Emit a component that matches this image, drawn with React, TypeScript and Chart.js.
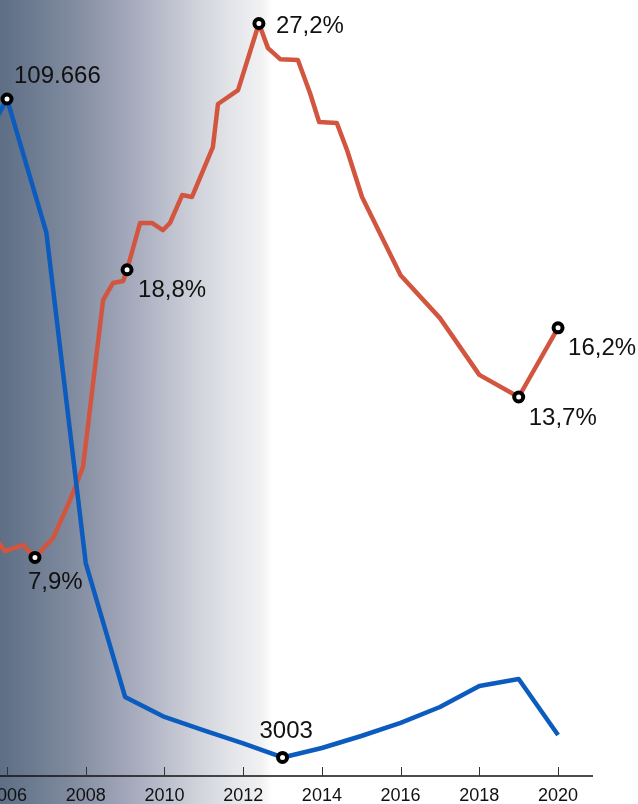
import React, { useEffect, useRef } from "react";
import { Chart, registerables } from "chart.js";

Chart.register(...registerables);

// Blue series: annual values
const blueYears = [2005, 2006, 2007, 2008, 2009, 2010, 2011, 2012, 2013, 2014, 2015, 2016, 2017, 2018, 2019, 2020];
const blueValues = [98000, 109666, 88000, 34500, 12800, 9560, 7400, 5300, 3003, 4540, 6480, 8600, 11180, 14580, 15710, 6640];

// Red series: percentage values (sub-annual)
const redYears = [
  2005.75, 2005.95, 2006.41, 2006.71, 2007.17, 2007.6, 2007.93, 2008.44, 2008.69, 2008.95, 2009.05,
  2009.38, 2009.68, 2009.96, 2010.14, 2010.45, 2010.7, 2011.23, 2011.36, 2011.87, 2012.4, 2012.63,
  2012.94, 2013.39, 2013.7, 2013.93, 2014.38, 2014.64, 2015.02, 2016, 2017, 2018, 2019, 2020,
];
const redValues = [
  8.5, 8.13, 8.35, 7.9, 8.6, 9.97, 11.17, 17.2, 17.82, 17.89, 18.3,
  19.99, 19.99, 19.73, 19.99, 21.0, 20.93, 22.73, 24.29, 24.79, 27.2, 26.31,
  25.91, 25.88, 24.68, 23.64, 23.6, 22.62, 20.93, 18.1, 16.55, 14.5, 13.7, 16.2,
];

const tickYears = [2006, 2008, 2010, 2012, 2014, 2016, 2018, 2020];

// Annotated points (index into series) and their texts
const blueLabelIdx = [1, 8];
const blueLabelText = ["109.666", "3003"];
const redLabelIdx = [3, 10, 20, 32, 33];
const redLabelText = ["7,9%", "18,8%", "27,2%", "13,7%", "16,2%"];

const FONT = "'Liberation Sans', Arial, Helvetica, sans-serif";

export default function App() {
  const ref = useRef<HTMLCanvasElement | null>(null);

  useEffect(() => {
    const canvas = ref.current;
    if (!canvas) return;

    // label offsets (dx from marker to text left, dy from marker to baseline)
    const blueOffsets = [
      [7, -16],
      [-23, -19],
    ];
    const redOffsets = [
      [-7, 32],
      [11, 27],
      [17, 9.5],
      [10, 28],
      [10, 27],
    ];

    const bgPlugin = {
      id: "bg",
      beforeDraw(chart: any) {
        const { ctx, width, height } = chart;
        ctx.save();
        ctx.fillStyle = "#ffffff";
        ctx.fillRect(0, 0, width, height);
        const g = ctx.createLinearGradient(0, 0, 272, 0);
        g.addColorStop(0, "#5d6e85");
        g.addColorStop(0.25, "#7e899d");
        g.addColorStop(0.5, "#a8acbe");
        g.addColorStop(0.72, "#cfd2da");
        g.addColorStop(0.86, "#e4e6ea");
        g.addColorStop(0.96, "#f1f1f2");
        g.addColorStop(1, "#ffffff");
        ctx.fillStyle = g;
        ctx.fillRect(0, 0, 272, height);
        ctx.restore();
      },
    };

    const axisPlugin = {
      id: "axisline",
      afterDatasetsDraw(chart: any) {
        const { ctx, chartArea } = chart;
        const xs = chart.scales.x;
        ctx.save();
        ctx.strokeStyle = "#111";
        ctx.lineWidth = 1.5;
        ctx.beginPath();
        ctx.moveTo(chartArea.left, chartArea.bottom);
        ctx.lineTo(chartArea.right, chartArea.bottom);
        ctx.stroke();
        ctx.lineWidth = 1;
        ctx.strokeStyle = "#333";
        tickYears.forEach((y) => {
          const px = Math.round(xs.getPixelForValue(y)) + 0.5;
          ctx.beginPath();
          ctx.moveTo(px, chartArea.bottom - 9);
          ctx.lineTo(px, chartArea.bottom);
          ctx.stroke();
        });
        ctx.restore();
      },
    };

    const labelPlugin = {
      id: "labels",
      afterDatasetsDraw(chart: any) {
        const { ctx } = chart;
        ctx.save();
        ctx.font = `24px ${FONT}`;
        ctx.fillStyle = "#111";
        ctx.textAlign = "left";
        ctx.textBaseline = "alphabetic";
        const blueMeta = chart.getDatasetMeta(0);
        blueLabelIdx.forEach((idx, i) => {
          const p = blueMeta.data[idx];
          ctx.fillText(blueLabelText[i], p.x + blueOffsets[i][0], p.y + blueOffsets[i][1]);
        });
        const redMeta = chart.getDatasetMeta(1);
        redLabelIdx.forEach((idx, i) => {
          const p = redMeta.data[idx];
          ctx.fillText(redLabelText[i], p.x + redOffsets[i][0], p.y + redOffsets[i][1]);
        });
        ctx.restore();
      },
    };

    const chart = new Chart(canvas, {
      type: "line",
      data: {
        datasets: [
          {
            label: "blue",
            data: blueYears.map((x, i) => ({ x, y: blueValues[i] })),
            yAxisID: "yB",
            borderColor: "#0b5cbe",
            borderWidth: 4.5,
            tension: 0,
            fill: false,
            pointRadius: (c: any) => (blueLabelIdx.includes(c.dataIndex) ? 4.5 : 0),
            pointBackgroundColor: "#ffffff",
            pointBorderColor: "#000000",
            pointBorderWidth: 4,
            borderJoinStyle: "round",
          },
          {
            label: "red",
            data: redYears.map((x, i) => ({ x, y: redValues[i] })),
            yAxisID: "yR",
            borderColor: "#d2553f",
            borderWidth: 4.5,
            tension: 0,
            fill: false,
            pointRadius: (c: any) => (redLabelIdx.includes(c.dataIndex) ? 4.5 : 0),
            pointBackgroundColor: "#ffffff",
            pointBorderColor: "#000000",
            pointBorderWidth: 4,
            borderJoinStyle: "round",
          },
        ],
      },
      options: {
        responsive: false,
        animation: false,
        layout: { padding: { left: 0, top: 0, bottom: 0, right: 45 }, autoPadding: false },
        plugins: {
          legend: { display: false },
          tooltip: { enabled: false },
        },
        scales: {
          x: {
            type: "linear",
            min: 2005.822,
            max: 2020.888,
            grid: { display: false, drawTicks: false },
            border: { display: false },
            afterBuildTicks: (scale: any) => {
              scale.ticks = tickYears.map((v) => ({ value: v }));
            },
            afterFit: (scale: any) => {
              scale.paddingLeft = 0;
              scale.paddingRight = 0;
              scale.height = 28;
            },
            ticks: {
              autoSkip: false,
              maxRotation: 0,
              padding: 9,
              color: "#111",
              font: { family: FONT, size: 18 },
              callback: (v: any) => String(v),
            },
          },
          yB: {
            type: "linear",
            display: false,
            min: 0,
            max: 125700,
          },
          yR: {
            type: "linear",
            display: false,
            min: 0,
            max: 28.05,
          },
        },
      },
      plugins: [bgPlugin, axisPlugin, labelPlugin],
    });

    return () => chart.destroy();
  }, []);

  return (
    <div style={{ position: "fixed", left: 0, top: 0, width: 638, height: 804 }}>
      <canvas ref={ref} width={638} height={804} style={{ display: "block" }} />
    </div>
  );
}
